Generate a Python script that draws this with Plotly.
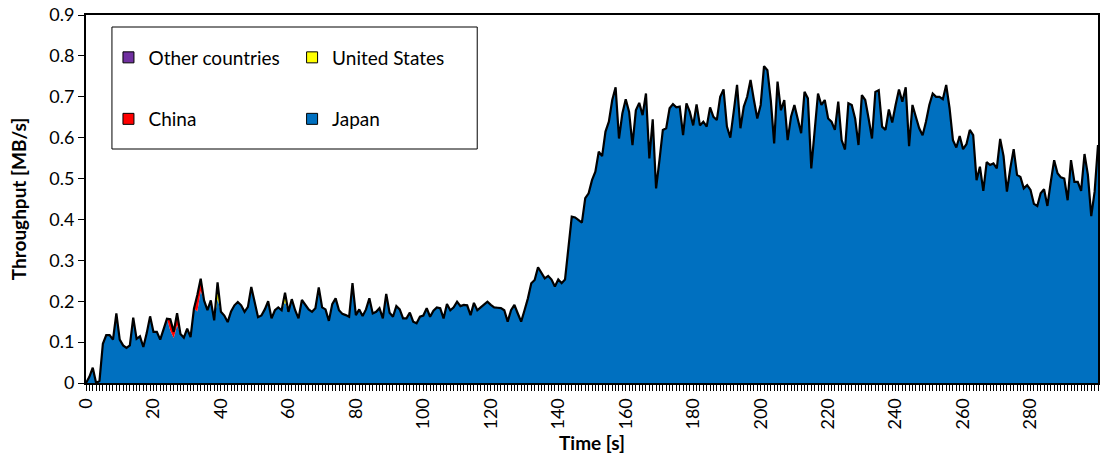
import numpy as np
import plotly.graph_objects as go

# Time axis in seconds
time_s = list(range(301))

# Throughput from Japan [MB/s], one value per second
japan = [
    0.0, 0.015, 0.0375, 0.0, 0.005, 0.096, 0.117, 0.117, 0.106, 0.17,
    0.106, 0.092, 0.086, 0.092, 0.16, 0.108, 0.114, 0.088, 0.122, 0.163,
    0.125, 0.125, 0.106, 0.129, 0.157, 0.128, 0.11, 0.141, 0.12, 0.111,
    0.133, 0.112, 0.182, 0.175, 0.225, 0.202, 0.178, 0.202, 0.153, 0.206,
    0.174, 0.165, 0.149, 0.175, 0.19, 0.198, 0.19, 0.174, 0.186, 0.235,
    0.198, 0.161, 0.165, 0.18, 0.2, 0.158, 0.178, 0.185, 0.178, 0.199,
    0.174, 0.205, 0.178, 0.158, 0.203, 0.191, 0.18, 0.174, 0.183, 0.234,
    0.185, 0.18, 0.152, 0.193, 0.207, 0.178, 0.169, 0.166, 0.162, 0.244,
    0.166, 0.18, 0.164, 0.18, 0.207, 0.17, 0.174, 0.183, 0.158, 0.218,
    0.172, 0.162, 0.188, 0.18, 0.158, 0.158, 0.172, 0.15, 0.146, 0.162,
    0.165, 0.183, 0.162, 0.177, 0.185, 0.183, 0.158, 0.193, 0.178, 0.185,
    0.199, 0.188, 0.191, 0.19, 0.166, 0.196, 0.178, 0.185, 0.191, 0.199,
    0.191, 0.185, 0.184, 0.183, 0.178, 0.15, 0.178, 0.191, 0.17, 0.15,
    0.178, 0.207, 0.244, 0.252, 0.283, 0.268, 0.256, 0.262, 0.253, 0.236,
    0.253, 0.244, 0.253, 0.33, 0.407, 0.405, 0.399, 0.392, 0.452, 0.464,
    0.496, 0.517, 0.566, 0.555, 0.615, 0.639, 0.692, 0.723, 0.598, 0.659,
    0.694, 0.663, 0.582, 0.667, 0.685, 0.655, 0.708, 0.549, 0.645, 0.476,
    0.545, 0.619, 0.623, 0.672, 0.682, 0.674, 0.676, 0.606, 0.684, 0.663,
    0.630, 0.681, 0.630, 0.639, 0.627, 0.674, 0.651, 0.643, 0.7, 0.718,
    0.627, 0.6, 0.663, 0.729, 0.623, 0.676, 0.7, 0.741, 0.692, 0.647,
    0.68, 0.775, 0.765, 0.692, 0.586, 0.737, 0.667, 0.692, 0.594, 0.651,
    0.68, 0.647, 0.611, 0.712, 0.696, 0.525, 0.611, 0.708, 0.68, 0.692,
    0.647, 0.639, 0.619, 0.688, 0.594, 0.571, 0.684, 0.68, 0.647, 0.582,
    0.704, 0.692, 0.647, 0.598, 0.712, 0.716, 0.627, 0.619, 0.669, 0.637,
    0.68, 0.718, 0.688, 0.723, 0.579, 0.68, 0.651, 0.623, 0.606, 0.639,
    0.68, 0.708, 0.7, 0.7, 0.694, 0.729, 0.672, 0.594, 0.576, 0.604,
    0.572, 0.584, 0.619, 0.606, 0.496, 0.529, 0.47, 0.54, 0.533, 0.537,
    0.525, 0.597, 0.555, 0.468, 0.525, 0.572, 0.509, 0.504, 0.476, 0.484,
    0.472, 0.438, 0.433, 0.464, 0.474, 0.433, 0.492, 0.545, 0.513, 0.503,
    0.5, 0.447, 0.545, 0.492, 0.492, 0.47, 0.56, 0.509, 0.408, 0.468,
    0.582,
]

# Seconds with non-zero throughput from the other sources [MB/s]
china_by_second = {25: 0.028, 26: 0.015, 27: 0.03, 33: 0.04, 34: 0.03}
us_by_second = {39: 0.04, 59: 0.022}
other_by_second = {}

def expand(by_second):
    values = np.zeros(len(time_s))
    for sec, val in by_second.items():
        values[sec] = val
    return values

japan_arr = np.array(japan)
china_arr = expand(china_by_second)
us_arr = expand(us_by_second)
other_arr = expand(other_by_second)
total_arr = japan_arr + china_arr + us_arr + other_arr

x_tick_vals = list(range(0, 300, 20))
y_tick_vals = [round(0.1 * i, 1) for i in range(10)]

FONT = "Lato"
series = [
    ("Japan", japan_arr, "#0070C0"),
    ("China", china_arr, "#FF0000"),
    ("United States", us_arr, "#FFFF00"),
    ("Other countries", other_arr, "#7030A0"),
]

fig = go.Figure()

# stacked areas
for name, vals, color in series:
    fig.add_trace(go.Scatter(
        x=time_s, y=vals, name=name, stackgroup="countries",
        mode="lines", line=dict(width=0, color=color),
        fillcolor=color, showlegend=False, hoverinfo="skip",
    ))

# outline of the total throughput
fig.add_trace(go.Scatter(
    x=time_s, y=total_arr, mode="lines",
    line=dict(color="black", width=2.2), showlegend=False,
))

# legend entries (one legend per cell of the 2x2 key)
plot_l, plot_w, plot_t, plot_h = 86, 1014, 15, 368

def px_x(px):
    return (px - plot_l) / plot_w

def px_y(py):
    return 1 - (py - plot_t) / plot_h

legend_cells = [
    ("Other countries", "#7030A0", "legend", 108.5, 57.5),
    ("United States", "#FFFF00", "legend2", 292.5, 57.5),
    ("China", "#FF0000", "legend3", 108.5, 119),
    ("Japan", "#0070C0", "legend4", 292.5, 119),
]
legend_layout = {}
for name, color, lg, lx, ly in legend_cells:
    fig.add_trace(go.Scatter(
        x=[None], y=[None], mode="markers", name=name, legend=lg,
        marker=dict(symbol="square", size=11, color=color,
                    line=dict(color="black", width=1)),
    ))
    legend_layout[lg] = dict(
        x=px_x(lx), y=px_y(ly), xanchor="left", yanchor="middle",
        bgcolor="rgba(0,0,0,0)", borderwidth=0,
        font=dict(family=FONT, size=19, color="black"),
    )

fig.add_shape(type="rect", xref="paper", yref="paper",
              x0=px_x(112), x1=px_x(478), y0=px_y(149), y1=px_y(27),
              line=dict(color="black", width=1), layer="below")

fig.update_layout(
    width=1102, height=464,
    margin=dict(l=plot_l, r=2, t=plot_t, b=81),
    paper_bgcolor="white", plot_bgcolor="white",
    font=dict(family=FONT, size=18, color="black"),
    **legend_layout,
)

fig.update_xaxes(
    range=[0, 300], tickmode="array", tickvals=x_tick_vals,
    tickangle=-90, ticks="outside", ticklen=6, tickcolor="black",
    minor=dict(tickmode="linear", tick0=0, dtick=1, ticks="outside",
               ticklen=6, tickcolor="black", tickwidth=1),
    showline=True, linecolor="black", linewidth=2, mirror=True,
    showgrid=False, zeroline=False,
    tickfont=dict(family=FONT, size=18),
    title=dict(text="<b>Time [s]</b>", font=dict(family=FONT, size=19),
               standoff=8),
)
fig.update_yaxes(
    range=[0, 0.9], tickmode="array", tickvals=y_tick_vals,
    ticks="outside", ticklen=6, tickcolor="black",
    showline=True, linecolor="black", linewidth=2, mirror=True,
    showgrid=False, zeroline=False,
    tickfont=dict(family=FONT, size=18),
    title=dict(text="<b>Throughput [MB/s]</b>", font=dict(family=FONT, size=19),
               standoff=18),
)

fig.write_html("out.html")
